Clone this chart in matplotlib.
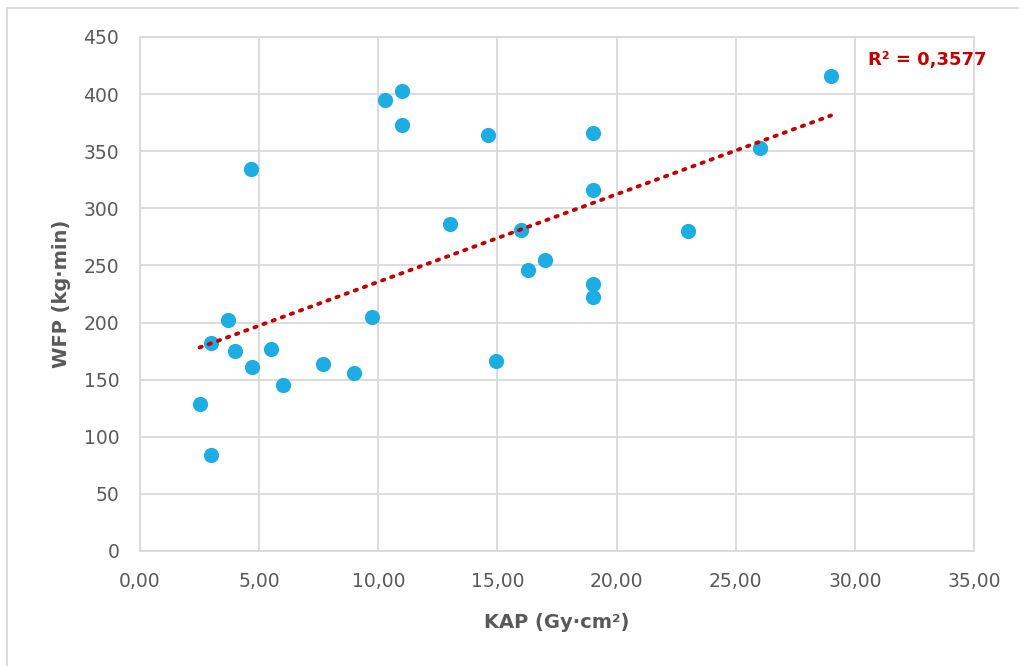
import numpy as np
import matplotlib
matplotlib.use('Agg')
import matplotlib.pyplot as plt
from matplotlib.lines import Line2D

# data
kap = [2.5, 3.0, 3.0, 3.7, 4.0, 4.7, 4.65, 5.5, 6.0, 7.7, 9.0, 9.75, 10.3, 11.0, 11.0,
       13.0, 14.6, 14.95, 16.0, 16.3, 17.0, 19.0, 19.0, 19.0, 19.0, 23.0, 26.0, 29.0]
wfp = [129, 84, 182, 202, 175, 161, 334, 177, 145, 164, 156, 205, 395, 403, 373,
       286, 364, 166, 281, 246, 255, 366, 316, 234, 222, 280, 353, 416]
r2_label = 'R² = 0,3577'
xticks = [0, 5, 10, 15, 20, 25, 30, 35]
yticks = [0, 50, 100, 150, 200, 250, 300, 350, 400, 450]

plt.rcParams['font.family'] = ['DejaVu Sans']
grey = '#595959'
grid = '#D9D9D9'

fig = plt.figure(figsize=(10.2, 6.66), dpi=100)
ax = fig.add_axes([140 / 1020, 1 - 551 / 666, 834 / 1020, 514 / 666])

ax.scatter(kap, wfp, s=120, color='#1EADE3', zorder=3, linewidths=0)

# linear trendline
k, b = np.polyfit(kap, wfp, 1)
xs = np.array([min(kap), max(kap)])
ax.plot(xs, k * xs + b, color='#C00000', linestyle=(0, (0.6, 1.9)), linewidth=2.8,
        dash_capstyle='round', zorder=4)
ax.text(30.55, 430, r2_label, color='#C00000', fontsize=13, fontweight='bold',
        ha='left', va='center', zorder=5)

ax.set_xlim(0, 35)
ax.set_ylim(0, 450)
ax.set_xticks(xticks)
ax.set_yticks(yticks)
ax.set_xticklabels([('%.2f' % t).replace('.', ',') for t in xticks])
ax.tick_params(length=0, labelsize=13.5, colors=grey)
ax.tick_params(axis='y', pad=15)
ax.tick_params(axis='x', pad=15)
ax.grid(True, color=grid, linewidth=1.3)
ax.set_axisbelow(True)
for s in ax.spines.values():
    s.set_color(grid)
    s.set_linewidth(1.3)

ax.set_xlabel('KAP (Gy·cm²)', fontsize=14, fontweight='bold', color=grey, labelpad=16)
ax.set_ylabel('WFP (kg·min)', fontsize=14, fontweight='bold', color=grey, labelpad=9)

# outer chart border (left and top edges visible)
fig.add_artist(Line2D([7.5 / 1020, 7.5 / 1020], [0, 1 - 7.5 / 666], color=grid, linewidth=1.3))
fig.add_artist(Line2D([7.5 / 1020, 1], [1 - 7.5 / 666, 1 - 7.5 / 666], color=grid, linewidth=1.3))

fig.savefig('out.png', dpi=100)
